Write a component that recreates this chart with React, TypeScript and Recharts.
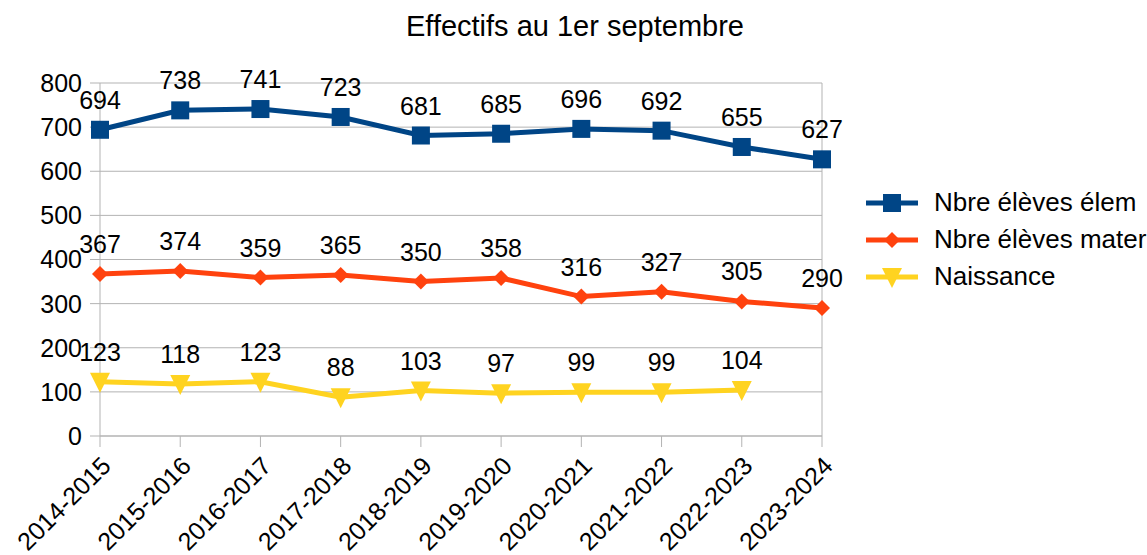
import React from 'react'
import {
  LineChart,
  Line,
  XAxis,
  YAxis,
  CartesianGrid,
  Legend,
  LabelList,
  ReferenceLine,
} from 'recharts'

const BLUE = '#004586'
const ORANGE = '#ff420e'
const YELLOW = '#ffd320'
const GRID = '#b3b3b3'
const FONT = '"Liberation Sans", Arial, sans-serif'

const years = [
  '2014-2015', '2015-2016', '2016-2017', '2017-2018', '2018-2019',
  '2019-2020', '2020-2021', '2021-2022', '2022-2023', '2023-2024',
]
const eleveElem = [694, 738, 741, 723, 681, 685, 696, 692, 655, 627]
const eleveMater = [367, 374, 359, 365, 350, 358, 316, 327, 305, 290]
const naissance = [123, 118, 123, 88, 103, 97, 99, 99, 104, null]
const yTicks = [0, 100, 200, 300, 400, 500, 600, 700, 800]

const data = years.map((year, i) => ({
  year,
  elem: eleveElem[i],
  mater: eleveMater[i],
  naissance: naissance[i],
}))

const SERIES = [
  { key: 'elem', name: 'Nbre élèves élem', color: BLUE, shape: 'square' },
  { key: 'mater', name: 'Nbre élèves mater', color: ORANGE, shape: 'diamond' },
  { key: 'naissance', name: 'Naissance', color: YELLOW, shape: 'triangle' },
]

function Marker({ cx, cy, shape, color }: { cx: number; cy: number; shape: string; color: string }) {
  if (cx == null || cy == null) return null
  if (shape === 'square') {
    return <rect x={cx - 9} y={cy - 9} width={18} height={18} fill={color} />
  }
  if (shape === 'diamond') {
    return <polygon points={`${cx},${cy - 8} ${cx + 8},${cy} ${cx},${cy + 8} ${cx - 8},${cy}`} fill={color} />
  }
  return <polygon points={`${cx - 10},${cy - 9} ${cx + 10},${cy - 9} ${cx},${cy + 11}`} fill={color} />
}

function makeDot(shape: string, color: string) {
  return (props: any) => (
    <Marker key={`${shape}-${props.index}`} cx={props.cx} cy={props.cy} shape={shape} color={color} />
  )
}

function XTick({ x, y, payload }: any) {
  return (
    <g transform={`translate(${x + 6},${y + 12})`}>
      <text
        transform="rotate(-45)"
        textAnchor="end"
        dominantBaseline="central"
        fontSize={25}
        fontFamily={FONT}
        fill="#000"
      >
        {payload.value}
      </text>
    </g>
  )
}

function LegendContent() {
  return (
    <div style={{ fontFamily: FONT, fontSize: 26, color: '#000' }}>
      {SERIES.map((s) => (
        <div key={s.key} style={{ display: 'flex', alignItems: 'center', height: 37 }}>
          <svg width={56} height={24} style={{ marginRight: 12 }}>
            <line x1={0} y1={12} x2={52} y2={12} stroke={s.color} strokeWidth={5} />
            <Marker cx={26} cy={12} shape={s.shape} color={s.color} />
          </svg>
          <span>{s.name}</span>
        </div>
      ))}
    </div>
  )
}

export default function App() {
  return (
    <div style={{ position: 'absolute', left: 0, top: 0, width: 1147, height: 555, background: '#fff' }}>
      <div
        style={{
          position: 'absolute',
          left: 0,
          width: 1150,
          top: 10,
          textAlign: 'center',
          fontFamily: FONT,
          fontSize: 29,
          color: '#000',
        }}
      >
        Effectifs au 1er septembre
      </div>
      <LineChart
        width={1147}
        height={555}
        data={data}
        margin={{ top: 83, right: 325, bottom: 0, left: 0 }}
      >
        <CartesianGrid horizontal vertical={false} stroke={GRID} strokeWidth={1} />
        <XAxis
          dataKey="year"
          height={119}
          padding={{ left: 0, right: 0 }}
          axisLine={{ stroke: GRID }}
          tickLine={{ stroke: GRID }}
          tickSize={11}
          interval={0}
          tick={<XTick />}
        />
        <YAxis
          width={100}
          domain={[0, 800]}
          ticks={yTicks}
          axisLine={{ stroke: GRID }}
          tickLine={{ stroke: GRID }}
          tickSize={10}
          tickMargin={8}
          tick={{ fontSize: 25, fill: '#000', fontFamily: FONT }}
          allowDataOverflow
        />
        <ReferenceLine x="2023-2024" stroke={GRID} />
        <Legend
          layout="vertical"
          align="center"
          verticalAlign="middle"
          wrapperStyle={{ left: 866, top: 184, width: 281 }}
          content={<LegendContent />}
        />
        {SERIES.map((s) => (
          <Line
            key={s.key}
            type="linear"
            dataKey={s.key}
            name={s.name}
            stroke={s.color}
            strokeWidth={5}
            dot={makeDot(s.shape, s.color)}
            activeDot={false}
            isAnimationActive={false}
          >
            <LabelList
              dataKey={s.key}
              position="top"
              offset={21}
              fontSize={25}
              fontFamily={FONT}
              fill="#000"
            />
          </Line>
        ))}
      </LineChart>
    </div>
  )
}
